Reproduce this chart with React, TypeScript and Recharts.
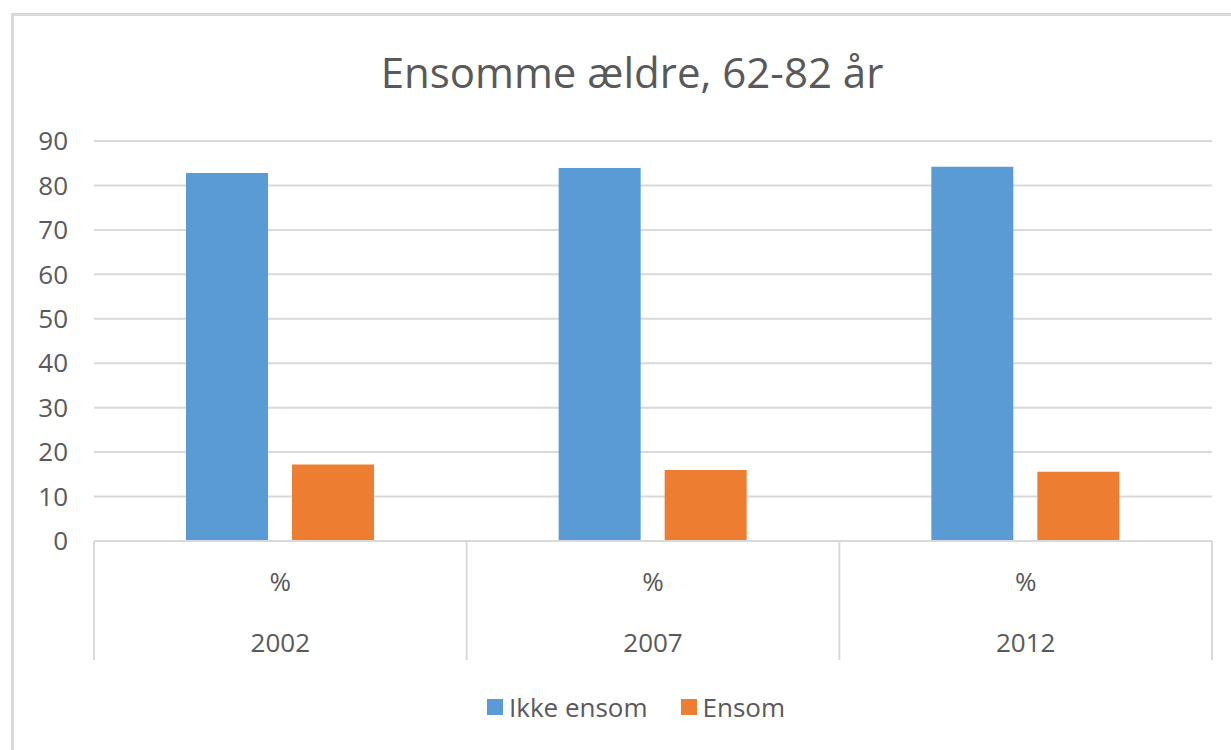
import { BarChart, Bar, XAxis, YAxis, CartesianGrid, Legend } from "recharts";

const years = ["2002", "2007", "2012"];
const unitLabel = "%";
const seriesNames = ["Ikke ensom", "Ensom"];
const ikkeEnsom = [82.8, 83.9, 84.2];
const ensom = [17.2, 16.0, 15.6];
const yTicks = [0, 10, 20, 30, 40, 50, 60, 70, 80, 90];

const data = years.map((year, i) => ({
  year,
  ikkeEnsom: ikkeEnsom[i],
  ensom: ensom[i],
}));

const W = 1231;
const H = 750;
const margin = { top: 141, right: 19, left: 0, bottom: 89 };
const Y_AXIS_W = 94;
const X_AXIS_H = 120;
const band = (W - margin.left - margin.right - Y_AXIS_W) / years.length;

const GRID = "#d9d9d9";
const TEXT = "#595959";

function CategoryTick(props: any) {
  const { x, y, payload, index } = props;
  const left = x - band / 2;
  const right = x + band / 2;
  return (
    <g>
      <line x1={left} y1={y} x2={left} y2={y + 119} stroke={GRID} strokeWidth={2} />
      {index === years.length - 1 && (
        <line x1={right} y1={y} x2={right} y2={y + 119} stroke={GRID} strokeWidth={2} />
      )}
      <text x={x} y={y + 50} textAnchor="middle" fill={TEXT} fontSize={26}>
        {unitLabel}
      </text>
      <text x={x} y={y + 111} textAnchor="middle" fill={TEXT} fontSize={26}>
        {payload.value}
      </text>
    </g>
  );
}

function LegendContent({ payload }: any) {
  // keep series order as in the chart
  const items = [...(payload || [])].sort(
    (a: any, b: any) => seriesNames.indexOf(a.value) - seriesNames.indexOf(b.value)
  );
  return (
    <div
      style={{
        display: "flex",
        justifyContent: "center",
        alignItems: "center",
        gap: 33,
      }}
    >
      {items.map((e: any) => (
        <div key={e.value} style={{ display: "flex", alignItems: "center" }}>
          <span
            style={{
              display: "inline-block",
              width: 16,
              height: 16,
              background: e.color,
              marginRight: 6,
            }}
          />
          <span style={{ fontSize: 26, color: TEXT, lineHeight: "30px" }}>
            {e.value}
          </span>
        </div>
      ))}
    </div>
  );
}

export default function App() {
  return (
    <div
      style={{
        position: "absolute",
        left: 0,
        top: 0,
        width: W,
        height: H,
        overflow: "hidden",
        background: "#fff",
        fontFamily: "'Open Sans', sans-serif",
      }}
    >
      {/* outer frame, cut off at right and bottom */}
      <div
        style={{
          position: "absolute",
          left: 11,
          top: 13,
          width: 1300,
          height: 800,
          border: `3px solid ${GRID}`,
          boxSizing: "border-box",
        }}
      />

      {/* Title */}
      <svg
        width={W}
        height={130}
        style={{ position: "absolute", left: 0, top: 0 }}
      >
        <text x={632} y={88} textAnchor="middle" fill={TEXT} fontSize={42}>
          Ensomme ældre, 62-82 år
        </text>
      </svg>

      <div style={{ position: "absolute", left: 0, top: 0 }}>
        <BarChart width={W} height={H} data={data} margin={margin} barGap={24}>
          <CartesianGrid vertical={false} stroke={GRID} strokeWidth={2} />
          <XAxis
            dataKey="year"
            height={X_AXIS_H}
            interval={0}
            tickSize={0}
            tickMargin={0}
            tickLine={false}
            axisLine={{ stroke: GRID, strokeWidth: 2 }}
            tick={<CategoryTick />}
          />
          <YAxis
            width={Y_AXIS_W}
            domain={[0, 90]}
            ticks={yTicks}
            interval={0}
            axisLine={false}
            tickLine={false}
            tickSize={0}
            tickMargin={26}
            tick={{ fontSize: 26, fill: TEXT }}
          />
          <Legend
            verticalAlign="middle"
            align="center"
            itemSorter={null as any}
            wrapperStyle={{ top: 692, left: 0, width: 1272 }}
            content={<LegendContent />}
          />
          <Bar
            dataKey="ikkeEnsom"
            name="Ikke ensom"
            fill="#5b9bd5"
            barSize={82}
            isAnimationActive={false}
          />
          <Bar
            dataKey="ensom"
            name="Ensom"
            fill="#ed7d31"
            barSize={82}
            isAnimationActive={false}
          />
        </BarChart>
      </div>
    </div>
  );
}
